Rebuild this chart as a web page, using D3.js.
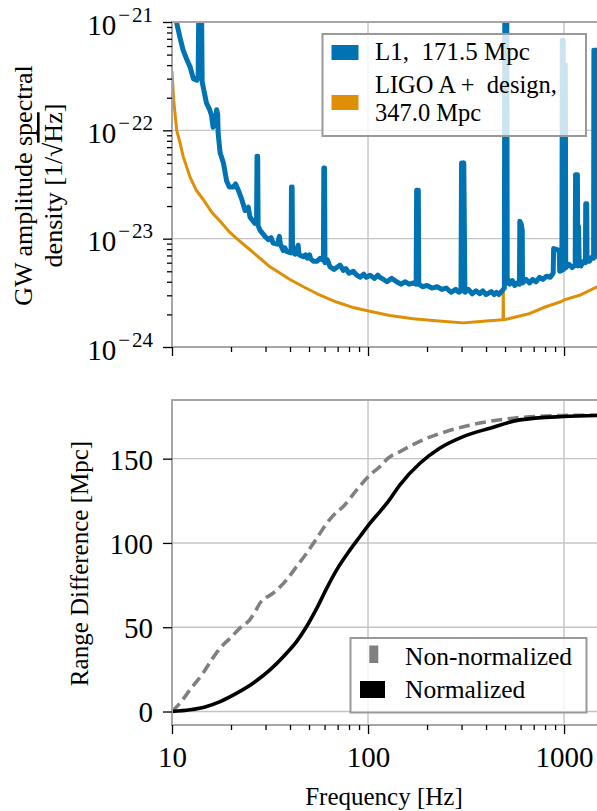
<!DOCTYPE html>
<html><head><meta charset="utf-8">
<script src="https://cdn.jsdelivr.net/npm/d3@7"></script>
<style>
body{margin:0;background:#fff}
svg{display:block}
text{font-family:"Liberation Serif","Times New Roman",serif;fill:#000}
</style>
</head><body>
<svg id="c" width="597" height="811"></svg>
<script>
// ---------------- data ----------------
const l1Freq = [10.0,10.57,11.0,11.4,11.9,12.4,12.85,13.4,13.6,13.75,14.1,14.25,14.44,15.0,15.5,15.9,16.2,16.6,16.9,17.1,17.2,17.6,18.3,19.0,19.6,20.55,21.1,21.8,22.7,23.6,24.5,25.0,26.5,27.0,27.15,27.35,27.5,28.1,29.8,31.0,32.0,32.8,34.5,35.3,35.7,36.9,37.7,38.5,40.5,40.7,41.0,41.2,42.5,44.0,44.5,46.8,48,49,50.3,51,52.6,55,57,59.2,59.5,60.0,60.3,62,64,67,70,72,74.8,77,80,84,87.7,91,95,98,102.4,108,112,115,120,124.9,132,140,147,155,162,170.6,176,177,180.5,181.5,190,200,212,225,238,251,265,280,290,298,300,304,308,312,325,340,355,372,385,400,425,440,452,465,480,496,499,510,513,518,528,545,560,575,592,595,605,612,614,640,667,690,720,750,780,815,850,880,885,945,950,975,980,990,995,1008,1015,1020,1060,1100,1140,1145,1170,1175,1185,1195,1220,1250,1285,1290,1305,1310,1350,1380,1415,1420,1450,1455,1490];
const l1Asd = [1.58e-21,9.8e-22,7.1e-22,5.5e-22,4.5e-22,3.8e-22,3.0e-22,2.9e-22,3.2e-22,3e-21,3e-21,2.8e-22,2.5e-22,1.78e-22,1.58e-22,1.38e-22,1.07e-22,1.17e-22,1.55e-22,1.41e-22,9.3e-23,6.2e-23,5.0e-23,3.4e-23,3.0e-23,3.0e-23,3.2e-23,2.8e-23,2.3e-23,1.82e-23,1.95e-23,1.58e-23,1.38e-23,1.41e-23,5.75e-23,5.75e-23,1.32e-23,1.2e-23,1.05e-23,9.8e-24,1.02e-23,9.1e-24,8.9e-24,1.05e-23,8.9e-24,7.8e-24,8.2e-24,7.6e-24,7.4e-24,3.0e-23,3.0e-23,7.6e-24,7.2e-24,8.7e-24,7.1e-24,6.8e-24,7.1e-24,6.6e-24,7.1e-24,6.5e-24,6.2e-24,6.2e-24,6.6e-24,6.3e-24,4.5e-23,4.5e-23,6.0e-24,6.4e-24,5.5e-24,5.2e-24,5.5e-24,5.7e-24,5.1e-24,5.3e-24,4.8e-24,5.0e-24,4.6e-24,4.4e-24,4.7e-24,4.4e-24,4.6e-24,4.3e-24,4.6e-24,4.4e-24,4.2e-24,4.0e-24,4.3e-24,4.0e-24,3.8e-24,4.0e-24,3.8e-24,3.9e-24,3.8e-24,2.8e-23,2.8e-23,3.8e-24,3.6e-24,3.7e-24,3.5e-24,3.6e-24,3.4e-24,3.5e-24,3.2e-24,3.4e-24,3.2e-24,3.3e-24,5.0e-23,4.8e-23,5.0e-23,3.2e-24,3.4e-24,3.1e-24,3.3e-24,3.1e-24,3.3e-24,3.05e-24,3.25e-24,3.05e-24,3.2e-24,3.05e-24,3.25e-24,3.5e-24,3e-21,3e-21,3.9e-24,4.2e-24,3.8e-24,4.1e-24,3.7e-24,3.9e-24,3.8e-24,1.45e-23,1.35e-23,1.2e-23,3.9e-24,4.2e-24,3.9e-24,4.2e-24,4.0e-24,4.4e-24,4.2e-24,4.5e-24,4.4e-24,4.8e-24,8.1e-24,7.8e-24,5.0e-24,5.1e-24,6.8e-22,6.8e-22,5.2e-24,4.0e-22,4.0e-22,5.4e-24,5.8e-24,5.4e-24,5.7e-24,3.9e-23,3.9e-23,5.6e-24,1.3e-23,5.8e-24,5.6e-24,6.1e-24,6.0e-24,2.1e-23,2.1e-23,6.2e-24,6.2e-24,6.7e-24,6.6e-24,5.5e-22,5.5e-22,6.9e-24,7.1e-24];

const apFreq = [10,10.2,10.57,11.0,11.4,12.36,13.3,14.44,16,17.6,19.5,21.4,25,31.6,40,46.8,55,69,85,102,129,170,230,306,400,488,490,491,520,670,800,970,1000,1200,1490];
const apAsd = [3.5e-22,1.9e-22,1.0e-22,7.6e-23,5.75e-23,3.7e-23,2.8e-23,2.3e-23,1.74e-23,1.45e-23,1.17e-23,1.0e-23,7.9e-24,5.5e-24,4.2e-24,3.6e-24,3.1e-24,2.6e-24,2.3e-24,2.14e-24,1.95e-24,1.82e-24,1.74e-24,1.67e-24,1.74e-24,1.78e-24,3.35e-24,1.78e-24,1.82e-24,2.04e-24,2.34e-24,2.63e-24,2.72e-24,3.0e-24,3.63e-24];

const nonNormFreq = [10,11,12.36,14.4,16,17.6,19.8,22.2,24.9,26.5,28.1,32.8,38.4,43.2,48.6,54.8,61.6,68,74.8,87.6,102.4,115,126.6,145.5,191,251,372,550,990,1490];
const nonNormRange = [0,5,12.9,22.8,31,37.6,43.5,49.5,54.4,59,64.3,70.2,78.1,86.0,93.9,102.8,111.7,117.5,121.6,131.5,140.4,145.3,150.3,154.2,161.2,166.1,171.1,174.0,175.6,175.8];

const normFreq = [10,12.36,15,17.6,21.4,25.9,31.6,38.4,43.2,48.6,54.8,61.6,69.2,81,91,102.4,115,126.6,145.5,184,232,306,419,595,990,1490];
const normRange = [0,1.0,3,5.9,10.9,16.8,24.7,34.6,41.5,50.4,61.3,73.2,84.0,95.9,103.8,111.7,118.6,124.5,134.5,147.3,156.2,163.1,168.1,173.0,175.0,175.6];

const xMajor = [10,100,1000];
const xTickLabels = ["10","100","1000"];
const xMinor = [20,30,40,50,60,70,80,90,200,300,400,500,600,700,800,900];
const yTopMajor = [1e-24,1e-23,1e-22,1e-21];
const yTopExp = ["24","23","22","21"];
const yBotMajor = [0,50,100,150];
const yBotLabels = ["0","50","100","150"];
const topLegend = [["L1,\u2002171.5 Mpc"],["LIGO A +\u2002design,","347.0 Mpc"]];
const botLegend = ["Non-normalized","Normalized"];

// ---------------- layout ----------------
const L = 172, R = 598, T1 = 22, B1 = 347, T2 = 400, B2 = 725;
const BLUE = "#0173B2", ORANGE = "#DE8F05", GRAY = "#808080";
const SPINE = "#a6a6a6", GRID = "#c4c4c4";

const svg = d3.select("#c");
const x = d3.scaleLog().domain([10, 1490]).range([L, R]);
const yTop = d3.scaleLog().domain([1e-24, 1e-21]).range([B1, T1]);
const yBot = d3.scaleLinear().domain([-8, 184.8]).range([B2, T2]);

let yMinorTop = [];
[1e-24,1e-23,1e-22].forEach(d => { for (let k = 2; k <= 9; k++) yMinorTop.push(d*k); });

const defs = svg.append("defs");
defs.append("clipPath").attr("id","clipTop").append("rect").attr("x",L).attr("y",T1).attr("width",R-L).attr("height",B1-T1);
defs.append("clipPath").attr("id","clipBot").append("rect").attr("x",L).attr("y",T2).attr("width",R-L).attr("height",B2-T2);

function grid(T, B, ys, yScale) {
  const g = svg.append("g").attr("stroke", GRID).attr("stroke-width", 1.4);
  g.selectAll(".gx").data(xMajor).join("line").attr("x1", d=>x(d)).attr("x2", d=>x(d)).attr("y1", T).attr("y2", B);
  g.selectAll(".gy").data(ys).join("line").attr("x1", L).attr("x2", R).attr("y1", d=>yScale(d)).attr("y2", d=>yScale(d));
}
grid(T1, B1, yTopMajor, yTop);
grid(T2, B2, yBotMajor, yBot);

// ---------------- top panel lines ----------------
const l1 = l1Freq.map((f,i)=>[f,l1Asd[i]]);
const ap = apFreq.map((f,i)=>[f,apAsd[i]]);
const lineTop = d3.line().x(d=>x(d[0])).y(d=>yTop(d[1]));
const gTop = svg.append("g").attr("clip-path","url(#clipTop)");
gTop.append("path").datum(ap).attr("d", lineTop).attr("fill","none").attr("stroke",ORANGE).attr("stroke-width",3).attr("stroke-linejoin","round");
gTop.append("path").datum(l1).attr("d", lineTop).attr("fill","none").attr("stroke",BLUE).attr("stroke-width",5).attr("stroke-linejoin","round");

// ---------------- bottom panel lines ----------------
const lineBot = d3.line().x(d=>x(d[0])).y(d=>yBot(d[1])).curve(d3.curveMonotoneX);
const gBot = svg.append("g").attr("clip-path","url(#clipBot)");
gBot.append("path").datum(nonNormFreq.map((f,i)=>[f,nonNormRange[i]])).attr("d", lineBot)
  .attr("fill","none").attr("stroke",GRAY).attr("stroke-width",3.6).attr("stroke-dasharray","11,5.5");
gBot.append("path").datum(normFreq.map((f,i)=>[f,normRange[i]])).attr("d", lineBot)
  .attr("fill","none").attr("stroke","#000").attr("stroke-width",3.6);

// ---------------- spines ----------------
[[T1,B1],[T2,B2]].forEach(([T,B]) => {
  svg.append("rect").attr("x",L).attr("y",T).attr("width",R-L).attr("height",B-T)
    .attr("fill","none").attr("stroke",SPINE).attr("stroke-width",2);
});

// ---------------- axes ----------------
function styleAxis(g){ g.select(".domain").remove(); g.selectAll(".tick line").attr("stroke","#000").attr("stroke-width",1.3); }

svg.append("g").attr("transform",`translate(0,${B1})`).call(d3.axisBottom(x).tickValues(xMajor).tickSize(9).tickFormat("")).call(styleAxis);
svg.append("g").attr("transform",`translate(0,${B1})`).call(d3.axisBottom(x).tickValues(xMinor).tickSize(5).tickFormat("")).call(styleAxis);
const gxb = svg.append("g").attr("transform",`translate(0,${B2})`)
  .call(d3.axisBottom(x).tickValues(xMajor).tickSize(9).tickPadding(12).tickFormat((d,i)=>xTickLabels[i])).call(styleAxis);
gxb.selectAll(".tick text").attr("font-size",29).attr("font-family",null).attr("fill","#000");
svg.append("g").attr("transform",`translate(0,${B2})`).call(d3.axisBottom(x).tickValues(xMinor).tickSize(5).tickFormat("")).call(styleAxis);

const gyt = svg.append("g").attr("transform",`translate(${L},0)`)
  .call(d3.axisLeft(yTop).tickValues(yTopMajor).tickSize(9).tickFormat("")).call(styleAxis);
gyt.selectAll(".tick").each(function(d,i){
  const t = d3.select(this).append("text").attr("x",-19).attr("y",12).attr("text-anchor","end").attr("font-size",29);
  t.append("tspan").text("10");
  t.append("tspan").attr("dx",2).attr("dy",-13).attr("font-size",21).text("\u2212");
  t.append("tspan").attr("dx",2).attr("font-size",21).text(yTopExp[i]);
});
svg.append("g").attr("transform",`translate(${L},0)`)
  .call(d3.axisLeft(yTop).tickValues(yMinorTop).tickSize(5).tickFormat("")).call(styleAxis);

const gyb = svg.append("g").attr("transform",`translate(${L},0)`)
  .call(d3.axisLeft(yBot).tickValues(yBotMajor).tickSize(9).tickPadding(10).tickFormat((d,i)=>yBotLabels[i])).call(styleAxis);
gyb.selectAll(".tick text").attr("font-size",29).attr("font-family",null).attr("fill","#000").attr("dy","0.36em");

// ---------------- axis labels ----------------
const lblTop = svg.append("text").attr("transform",`translate(0,${(T1+B1)/2+1}) rotate(-90)`).attr("text-anchor","middle").attr("font-size",26);
lblTop.append("tspan").attr("x",0).attr("y",32).text("GW amplitude spectral");
const l2 = lblTop.append("tspan").attr("x",0).attr("y",62);
l2.append("tspan").text("density [1/\u221A");
l2.append("tspan").attr("text-decoration","overline").text("Hz");
l2.append("tspan").text("]");
svg.append("text").attr("transform",`translate(88,${(T2+B2)/2+1}) rotate(-90)`).attr("text-anchor","middle").attr("font-size",25)
  .text("Range Difference [Mpc]");
svg.append("text").attr("x",(L+R)/2 - 1).attr("y",805).attr("text-anchor","middle").attr("font-size",25).text("Frequency [Hz]");

// ---------------- legends ----------------
const lgT = svg.append("g");
lgT.append("rect").attr("x",322.5).attr("y",34).attr("width",263.5).attr("height",102)
  .attr("fill","#fff").attr("fill-opacity",0.8).attr("stroke","#999").attr("stroke-width",2);
lgT.append("rect").attr("x",331.5).attr("y",45).attr("width",27).attr("height",15).attr("fill",BLUE);
lgT.append("rect").attr("x",331.5).attr("y",95).attr("width",27).attr("height",15).attr("fill",ORANGE);
lgT.append("text").attr("x",375).attr("y",60).attr("font-size",25).text(topLegend[0][0]);
lgT.append("text").attr("x",375).attr("y",93).attr("font-size",24.5).text(topLegend[1][0]);
lgT.append("text").attr("x",375).attr("y",121).attr("font-size",24.5).text(topLegend[1][1]);

const lgB = svg.append("g");
lgB.append("rect").attr("x",350.5).attr("y",638).attr("width",236).attr("height",74.5)
  .attr("fill","#fff").attr("fill-opacity",0.8).attr("stroke","#999").attr("stroke-width",2);
lgB.append("rect").attr("x",369.3).attr("y",645.5).attr("width",9).attr("height",17.5).attr("fill",GRAY);
lgB.append("rect").attr("x",360).attr("y",681).attr("width",25).attr("height",17).attr("fill","#000");
lgB.append("text").attr("x",405).attr("y",665).attr("font-size",25.5).text(botLegend[0]);
lgB.append("text").attr("x",405).attr("y",698).attr("font-size",25.5).text(botLegend[1]);
</script>
</body></html>
